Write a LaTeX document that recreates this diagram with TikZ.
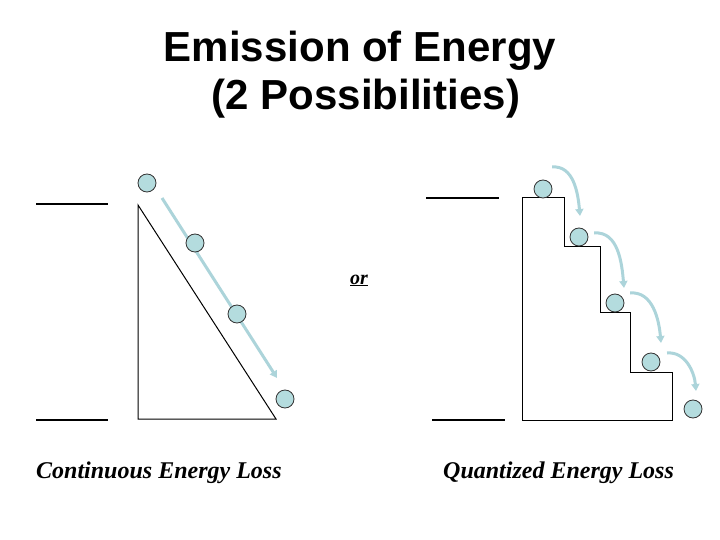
\documentclass[tikz,border=0pt]{standalone}
\usepackage{fontspec}
\setmainfont{Liberation Serif}
\newfontfamily\titlefont{Liberation Sans}
\usetikzlibrary{arrows.meta}
\definecolor{ballfill}{RGB}{180,220,222}
\definecolor{arrowcol}{RGB}{172,212,218}
\begin{document}
\begin{tikzpicture}[x=1pt,y=-1pt,
  ball/.style={circle,draw=black!80,line width=0.8pt,fill=ballfill,minimum size=18pt,inner sep=0pt},
  level/.style={line width=1.6pt},
  outline/.style={line width=1pt},
  flow/.style={draw=arrowcol,line width=3pt,-{Triangle[width=8pt,length=7pt]}},
  titletext/.style={font=\titlefont\fontsize{42}{48}\selectfont\bfseries,anchor=base,inner sep=0pt},
  label/.style={font=\fontsize{24}{28}\selectfont\bfseries\itshape,anchor=base west,inner sep=0pt}]
\useasboundingbox (0,0) rectangle (720,540);
% title
\node[titletext] (title1) at (360,62) {Emission of Energy};
\node[titletext] (title2) at (366,110) {(2 Possibilities)};
% left levels
\coordinate (l1a) at (36,204); \coordinate (l1b) at (108,204);
\coordinate (l2a) at (36,420); \coordinate (l2b) at (108,420);
\draw[level] (l1a) -- (l1b);
\draw[level] (l2a) -- (l2b);
% triangle
\coordinate (t1) at (138,205); \coordinate (t2) at (138,419); \coordinate (t3) at (276,419);
\draw[outline] (t1) -- (t2) -- (t3) -- cycle;
% left arrow
\coordinate (fa) at (162,198); \coordinate (fb) at (277,378);
\draw[flow] (fa) -- (fb);
% left balls
\node[ball] (b1) at (147,183) {};
\node[ball] (b2) at (195,243) {};
\node[ball] (b3) at (237,314) {};
\node[ball] (b4) at (285,399) {};
% or
\node[font=\fontsize{20}{24}\selectfont\bfseries\itshape,anchor=base,inner sep=0pt] (or) at (359,284) {\underline{or}};
% right levels
\coordinate (r1a) at (426,198); \coordinate (r1b) at (499,198);
\coordinate (r2a) at (432,420); \coordinate (r2b) at (505,420);
\draw[level] (r1a) -- (r1b);
\draw[level] (r2a) -- (r2b);
% staircase
\draw[outline] (522,420) -- (522,198) -- (564,198) -- (564,246) -- (600,246) -- (600,312) -- (630,312) -- (630,372) -- (672,372) -- (672,420) -- cycle;
% curved arrows
\coordinate (c1a) at (552,167); \coordinate (c1b) at (580,216);
\coordinate (c2a) at (594,233); \coordinate (c2b) at (624,288);
\coordinate (c3a) at (630,293); \coordinate (c3b) at (661,343);
\coordinate (c4a) at (667,353); \coordinate (c4b) at (696,391);
\draw[flow] (c1a) to[out=5,in=95] (c1b);
\draw[flow] (c2a) to[out=5,in=95] (c2b);
\draw[flow] (c3a) to[out=5,in=95] (c3b);
\draw[flow] (c4a) to[out=5,in=95] (c4b);
% right balls
\node[ball] (q1) at (543,189) {};
\node[ball] (q2) at (579,237) {};
\node[ball] (q3) at (615,303) {};
\node[ball] (q4) at (651,362) {};
\node[ball] (q5) at (693,409) {};
% labels
\node[label] (lab1) at (36,478) {Continuous Energy Loss};
\node[label] (lab2) at (443,478) {Quantized Energy Loss};
\end{tikzpicture}
\end{document}
